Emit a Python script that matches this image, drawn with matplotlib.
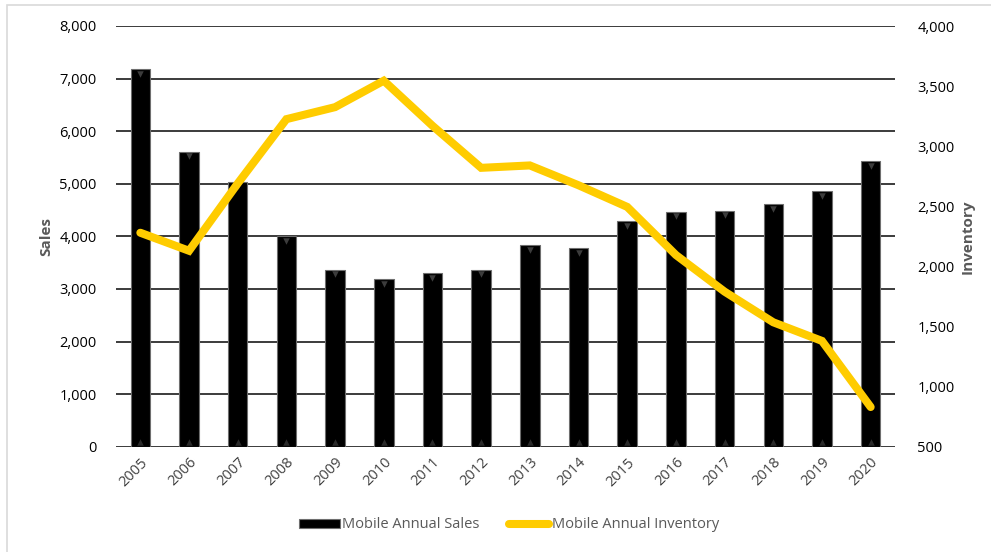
import matplotlib
matplotlib.use("Agg")
import matplotlib.pyplot as plt
from matplotlib.patches import Patch, Rectangle
from matplotlib.lines import Line2D
from matplotlib.ticker import FuncFormatter, MultipleLocator

# values
years = ['2005', '2006', '2007', '2008', '2009', '2010', '2011', '2012',
         '2013', '2014', '2015', '2016', '2017', '2018', '2019', '2020']
sales = [7180, 5610, 5040, 4000, 3365, 3180, 3300, 3365,
         3830, 3780, 4285, 4470, 4490, 4615, 4855, 5430]
inventory = [2280, 2130, 2690, 3225, 3325, 3545, 3170, 2820,
             2840, 2675, 2495, 2095, 1790, 1535, 1380, 830]

plt.rcParams['font.family'] = ['Open Sans', 'DejaVu Sans']

fig = plt.figure(figsize=(9.91, 5.52), dpi=100)
ax = fig.add_axes([116 / 991, 1 - 446.7 / 552, 779 / 991, 420.7 / 552])
ax2 = ax.twinx()

x = list(range(len(years)))
ax.bar(x, sales, width=0.4, color='black', edgecolor='#6e6e6e',
       linewidth=0.8, zorder=2)
# little bevel triangles at the top and base of each bar
ax.scatter(x, [s - 90 for s in sales], marker='v', s=22, color='#3c3c3c',
           zorder=3, linewidths=0)
ax.scatter(x, [90] * len(x), marker='^', s=22, color='#2a2a2a',
           zorder=3, linewidths=0)

ax.set_xlim(-0.5, len(years) - 0.5)
ax.set_ylim(0, 8000)
ax.yaxis.set_major_locator(MultipleLocator(1000))
ax.yaxis.set_major_formatter(FuncFormatter(lambda v, p: f'{int(v):,}'))
ax.set_axisbelow(True)
ax.yaxis.grid(True, color='#1a1a1a', linewidth=1.2)
ax.get_ygridlines()[0].set_color('#d9d9d9')

ax2.plot(x, inventory, color='#FFCC00', linewidth=5.8,
         solid_capstyle='round', solid_joinstyle='miter', zorder=4)
ax2.set_ylim(500, 4000)
ax2.yaxis.set_major_locator(MultipleLocator(500))
ax2.yaxis.set_major_formatter(FuncFormatter(lambda v, p: f'{int(v):,}'))

for a in (ax, ax2):
    for sp in a.spines.values():
        sp.set_visible(False)
    a.tick_params(length=0, labelsize=10.5, labelcolor='black')

ax.tick_params(axis='y', pad=14)
ax2.tick_params(axis='y', pad=16)
ax.set_xticks(x)
ax.set_xticklabels(years, rotation=45, ha='right', rotation_mode='anchor')
ax.tick_params(axis='x', pad=6, labelcolor='#404040')

ax.set_ylabel('Sales', fontsize=11, fontweight='bold', color='#595959',
              labelpad=4)
ax2.set_ylabel('Inventory', fontsize=11, fontweight='bold', color='#595959',
               rotation=90, labelpad=4)

handles = [Patch(facecolor='black', edgecolor='#6e6e6e', linewidth=0.8),
           Line2D([0], [0], color='#FFCC00', linewidth=5.8,
                  solid_capstyle='round')]
fig.legend(handles, ['Mobile Annual Sales', 'Mobile Annual Inventory'],
           loc='center', bbox_to_anchor=(509 / 991, 1 - 525 / 552), ncol=2,
           frameon=False, fontsize=10.5, labelcolor='#595959',
           handlelength=2.8, handleheight=0.55, handletextpad=0.15,
           columnspacing=2.0)

# light outer border of the chart area
fig.patches.append(Rectangle((7 / 991, -0.1), 1.2, 1.1 - 5 / 552,
                             transform=fig.transFigure, fill=False,
                             edgecolor='#d9d9d9', linewidth=1.2))

fig.savefig('out.png', dpi=100)
